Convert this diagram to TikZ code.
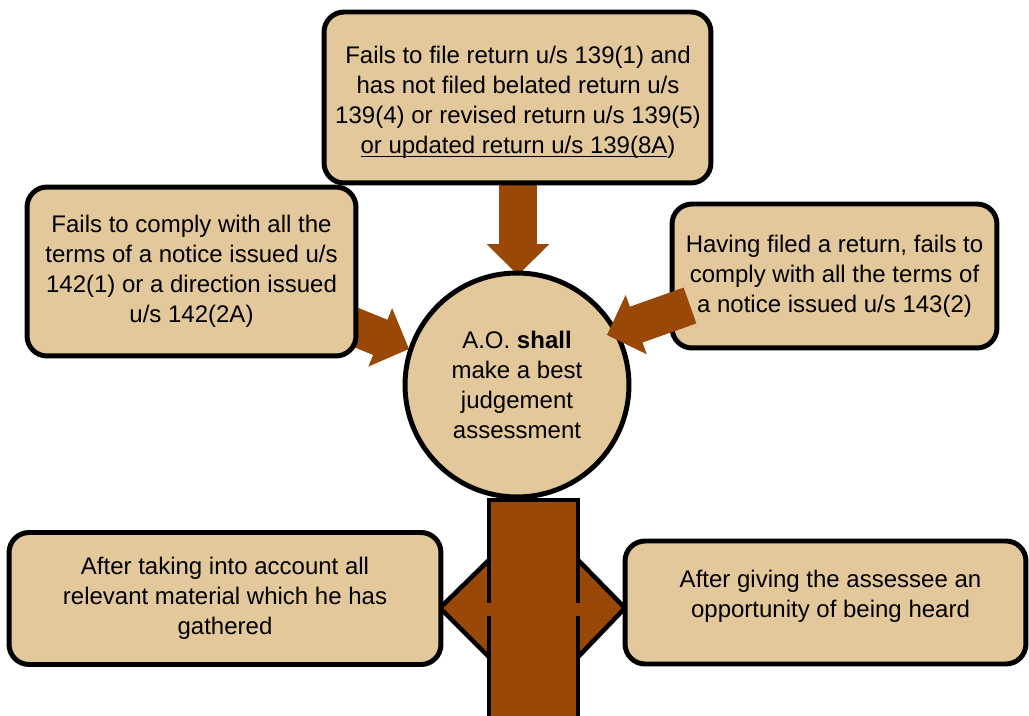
\documentclass[tikz,border=0pt]{standalone}
\usepackage{fontspec}
\setmainfont{Liberation Sans}
\usetikzlibrary{calc}
\definecolor{tanfill}{RGB}{226,200,154}
\definecolor{brownfill}{RGB}{153,72,7}
\newcommand\ulinetext[1]{\setbox0\hbox{#1}\rlap{\rule[-1.9pt]{\wd0}{0.7pt}}\box0}
\tikzset{
  box/.style={draw=black, line width=2.83pt, fill=tanfill, rounded corners=0.4cm,
    inner sep=0pt, outer sep=0pt, align=center,
    font=\fontsize{13.66pt}{17.07pt}\selectfont},
  boxtext/.style={inner sep=0pt, align=center,
    font=\fontsize{13.66pt}{17.07pt}\selectfont},
  centre/.style={draw=black, line width=2.83pt, fill=tanfill, circle,
    inner sep=0pt, outer sep=0pt, align=center, minimum size=4.48cm,
    font=\fontsize{13.66pt}{17.07pt}\selectfont},
  blockfill/.style={fill=brownfill},
  blockline/.style={draw=black, line width=2.6pt, line join=miter},
}
% #1 = prefix of coordinates (#1s = start, #1t = tip)
\newcommand\blockarrow[1]{%
  \coordinate (#1h) at ($(#1t)!0.62cm!(#1s)$);
  \fill[blockfill] ($(#1s)!0.38cm!90:(#1t)$) -- ($(#1h)!0.38cm!90:(#1t)$)
    -- ($(#1h)!0.63cm!90:(#1t)$) -- (#1t) -- ($(#1h)!0.63cm!-90:(#1t)$)
    -- ($(#1h)!0.38cm!-90:(#1t)$) -- ($(#1s)!0.38cm!-90:(#1t)$) -- cycle;
}
\begin{document}
\begin{tikzpicture}[x=0.02cm, y=-0.02cm]
\useasboundingbox (0,0) rectangle (1029,716);

% connector arrows (behind the boxes)
\coordinate (ds) at (518,170);  \coordinate (dt) at (518,275);
\coordinate (ls) at (340,321);  \coordinate (lt) at (409,349);
\coordinate (rs) at (690,305.5);\coordinate (rt) at (607,335);
\blockarrow{d}
\blockarrow{l}

% boxes
\node[box, minimum width=7.74cm, minimum height=3.42cm] (top) at (517.5,97.5) {};
\node[boxtext] (topt) at (518,102.5)
  {Fails to file return u/s 139(1) and\\has not filed belated return u/s\\139(4) or revised return u/s 139(5)\\\ulinetext{or updated return u/s 139(8A})};
\node[box, minimum width=6.58cm, minimum height=3.38cm] (left) at (191.5,271.5)
  {Fails to comply with all the\\terms of a notice issued u/s\\142(1) or a direction issued\\u/s 142(2A)};
\node[box, minimum width=6.5cm, minimum height=2.88cm] (right) at (834.5,276)
  {Having filed a return, fails to\\comply with all the terms of\\a notice issued u/s 143(2)};
\node[centre] (ao) at (517,385)
  {A.O. \textbf{shall}\\make a best\\judgement\\assessment};
\blockarrow{r}

% lower part: trunk with double arrow
\begin{scope}
\clip (0,0) rectangle (1029,716);
\fill[blockfill] (489,560) -- (440,608) -- (489,657) -- (500,657) -- (500,560) -- cycle;
\draw[blockline] (489,560) -- (440,608) -- (489,657);
\fill[blockfill] (578,560) -- (625,608) -- (578,657) -- (565,657) -- (565,560) -- cycle;
\draw[blockline] (578,560) -- (625,608) -- (578,657);
\draw[blockline, fill=brownfill] (489,500) rectangle (578,740);
\fill[blockfill] (484,603) rectangle (583,616);
\end{scope}

\node[box, minimum width=8.64cm, minimum height=2.64cm] (bl) at (225,598.5)
  {After taking into account all\\relevant material which he has\\gathered};
\node[box, minimum width=8.02cm, minimum height=2.46cm] (br) at (825.5,602.5) {};
\node[boxtext] (brt) at (830.5,596)
  {After giving the assessee an\\opportunity of being heard};
\end{tikzpicture}
\end{document}
